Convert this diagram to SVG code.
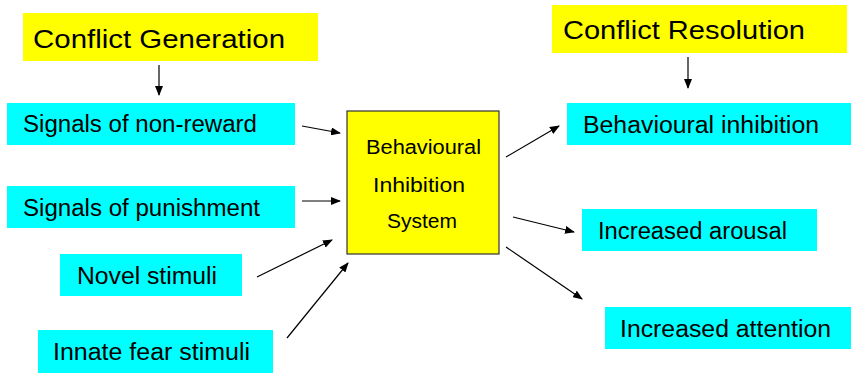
<svg xmlns="http://www.w3.org/2000/svg" width="851" height="373" viewBox="0 0 851 373">
<defs>
<marker id="ah" markerUnits="userSpaceOnUse" markerWidth="10" markerHeight="8" refX="9" refY="4" orient="auto">
<path d="M0,0 L10,4 L0,8 Z" fill="#000"/>
</marker>
<style>
.y{fill:#FFFF00}
.c{fill:#00FFFF}
.t{font-family:"Liberation Sans",Arial,sans-serif;fill:#000}
.h{font-size:26px}
.b{font-size:23px}
.s{font-size:20px}
.e{stroke:#000;stroke-width:1.2;fill:none;marker-end:url(#ah)}
</style>
</defs>
<rect width="851" height="373" fill="#fff"/>
<g id="conflict-generation"><rect class="y" x="23" y="13" width="295" height="48"/><text class="t h" x="33" y="48" textLength="252" lengthAdjust="spacingAndGlyphs">Conflict Generation</text></g>
<g id="conflict-resolution"><rect class="y" x="552" y="5" width="295" height="48"/><text class="t h" x="563" y="39" textLength="242" lengthAdjust="spacingAndGlyphs">Conflict Resolution</text></g>
<g id="non-reward"><rect class="c" x="7" y="103" width="288" height="42"/><text class="t b" x="23" y="132" textLength="234" lengthAdjust="spacingAndGlyphs">Signals of non-reward</text></g>
<g id="punishment"><rect class="c" x="7" y="186" width="288" height="42"/><text class="t b" x="23" y="216" textLength="237" lengthAdjust="spacingAndGlyphs">Signals of punishment</text></g>
<g id="novel"><rect class="c" x="60" y="254" width="182" height="42"/><text class="t b" x="77" y="284" textLength="140" lengthAdjust="spacingAndGlyphs">Novel stimuli</text></g>
<g id="innate"><rect class="c" x="38" y="330" width="235" height="43"/><text class="t b" x="53" y="360" textLength="197" lengthAdjust="spacingAndGlyphs">Innate fear stimuli</text></g>
<g id="bis"><rect x="347" y="111" width="152" height="143" fill="#FFFF00" stroke="#333" stroke-width="1.2"/>
<text class="t s" x="366" y="154" textLength="115" lengthAdjust="spacingAndGlyphs">Behavioural</text>
<text class="t s" x="373" y="192" textLength="92" lengthAdjust="spacingAndGlyphs">Inhibition</text>
<text class="t s" x="387" y="228" textLength="70" lengthAdjust="spacingAndGlyphs">System</text></g>
<g id="behavioural-inhibition"><rect class="c" x="567" y="103" width="284" height="42"/><text class="t b" x="583" y="133" textLength="236" lengthAdjust="spacingAndGlyphs">Behavioural inhibition</text></g>
<g id="arousal"><rect class="c" x="582" y="209" width="235" height="42"/><text class="t b" x="598" y="239" textLength="189" lengthAdjust="spacingAndGlyphs">Increased arousal</text></g>
<g id="attention"><rect class="c" x="605" y="307" width="246" height="42"/><text class="t b" x="620" y="337" textLength="211" lengthAdjust="spacingAndGlyphs">Increased attention</text></g>
<g id="connectors">
<line class="e" x1="159" y1="65" x2="159" y2="95"/>
<line class="e" x1="688" y1="57" x2="688" y2="88"/>
<line class="e" x1="302" y1="126" x2="340" y2="133"/>
<line class="e" x1="302" y1="201" x2="340" y2="201"/>
<line class="e" x1="257" y1="277" x2="332" y2="240"/>
<line class="e" x1="287" y1="338" x2="348" y2="263"/>
<line class="e" x1="506" y1="157" x2="559" y2="126"/>
<line class="e" x1="513" y1="217" x2="574" y2="232"/>
<line class="e" x1="506" y1="247" x2="582" y2="299"/>
</g>
</svg>
